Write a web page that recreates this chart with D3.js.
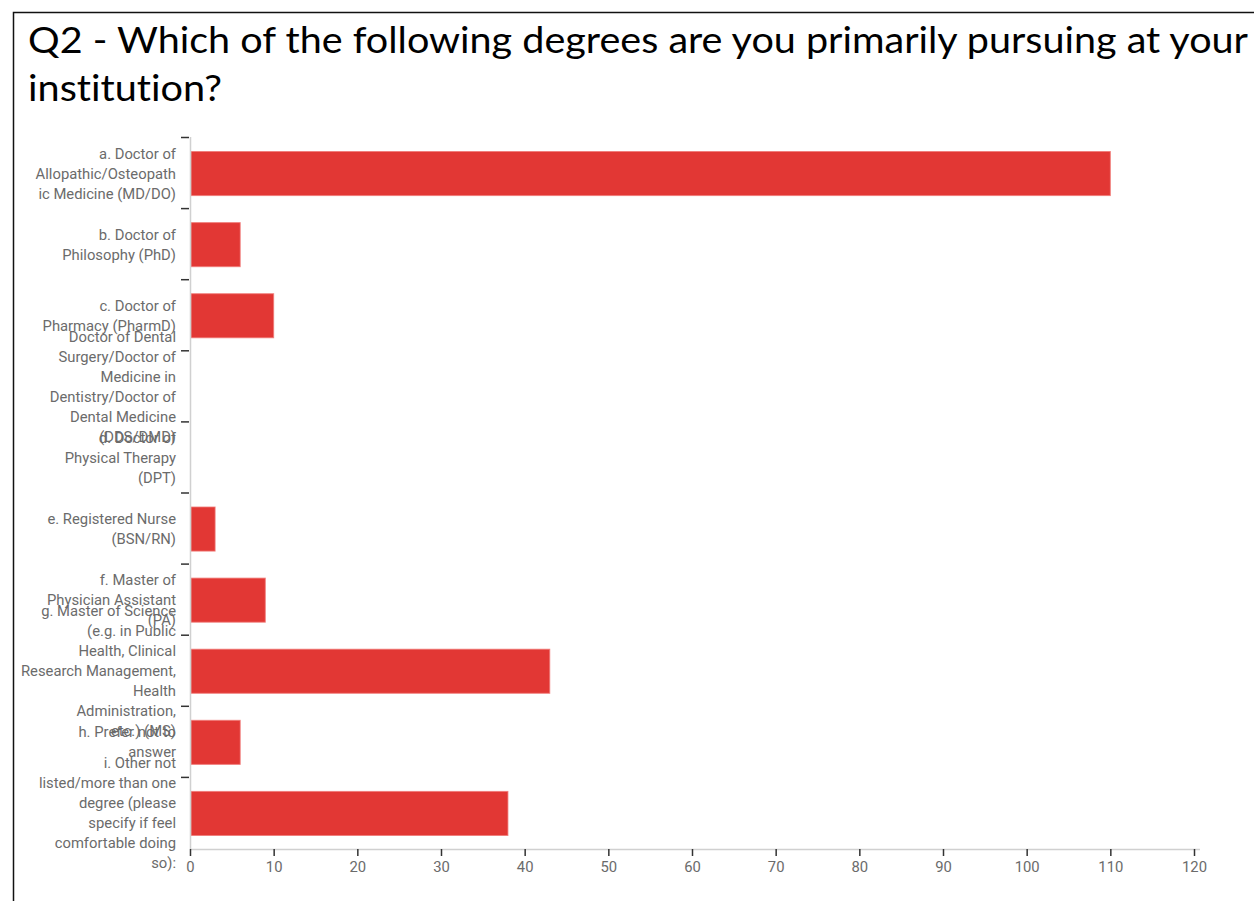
<!DOCTYPE html>
<html>
<head>
<meta charset="utf-8">
<script src="https://cdn.jsdelivr.net/npm/d3@7"></script>
<style>
  body { margin: 0; background: #fff; }
  svg { display: block; }
  text { font-variant-ligatures: none; }
</style>
</head>
<body>
<script>
const titleLines = [
  "Q2 - Which of the following degrees are you primarily pursuing at your",
  "institution?"
];

const categories = ["a", "b", "c", "d-dental", "d-pt", "e", "f", "g", "h", "i"];

const labelLines = [
  ["a. Doctor of", "Allopathic/Osteopath", "ic Medicine (MD/DO)"],
  ["b. Doctor of", "Philosophy (PhD)"],
  ["c. Doctor of", "Pharmacy (PharmD)"],
  ["Doctor of Dental", "Surgery/Doctor of", "Medicine in", "Dentistry/Doctor of", "Dental Medicine", "(DDS/DMD)"],
  ["d. Doctor of", "Physical Therapy", "(DPT)"],
  ["e. Registered Nurse", "(BSN/RN)"],
  ["f. Master of", "Physician Assistant", "(PA)"],
  ["g. Master of Science", "(e.g. in Public", "Health, Clinical", "Research Management,", "Health", "Administration,", "etc.) (MS)"],
  ["h. Prefer not to", "answer"],
  ["i. Other not", "listed/more than one", "degree (please", "specify if feel", "comfortable doing", "so):"]
];

const counts = [110, 6, 10, 0, 0, 3, 9, 43, 6, 38];

const xTicks = [0, 10, 20, 30, 40, 50, 60, 70, 80, 90, 100, 110, 120];

const width = 1254, height = 901;

const svg = d3.select("body")
  .append("svg")
  .attr("width", width)
  .attr("height", height);

// outer frame (runs off the right and bottom edges)
svg.append("path")
  .attr("d", "M13.5,905 L13.5,12.5 L1260,12.5")
  .attr("fill", "none")
  .attr("stroke", "#111")
  .attr("stroke-width", 1.5);

const title = svg.append("text")
  .attr("font-family", "Lato, 'Open Sans', sans-serif")
  .attr("font-size", 37)
  .attr("fill", "#000");

title.selectAll("tspan")
  .data(titleLines)
  .enter()
  .append("tspan")
  .attr("x", 28)
  .attr("y", (d, i) => 53 + i * 48)
  .attr("textLength", (d, i) => (i === 0 ? 1220 : 194))
  .attr("lengthAdjust", "spacingAndGlyphs")
  .text(d => d);

svg.append("defs")
  .append("clipPath")
  .attr("id", "chart-clip")
  .append("rect")
  .attr("x", 15)
  .attr("y", 14)
  .attr("width", width)
  .attr("height", height);

const chart = svg.append("g").attr("clip-path", "url(#chart-clip)");

const x = d3.scaleLinear().domain([0, 120]).range([190, 1194]);

const y = d3.scaleBand()
  .domain(categories)
  .range([138, 849])
  .paddingInner(0.38)
  .paddingOuter(0.19);

// bars
chart.selectAll("rect.bar")
  .data(counts)
  .enter()
  .append("rect")
  .attr("class", "bar")
  .attr("x", x(0) + 1)
  .attr("y", (d, i) => y(categories[i]))
  .attr("width", d => Math.max(0, x(d) - x(0) - 1))
  .attr("height", y.bandwidth())
  .attr("fill", "#e23734")
  .attr("stroke", d => (d > 0 ? "rgba(240,120,118,0.8)" : "none"))
  .attr("stroke-width", 1);

// y axis line
chart.append("line")
  .attr("x1", 190.5)
  .attr("x2", 190.5)
  .attr("y1", 137)
  .attr("y2", 849)
  .attr("stroke", "#d0d0d0")
  .attr("stroke-width", 1.5);

// y ticks at band boundaries
const step = y.step();
const boundaries = categories.map((c, i) => 137.5 + i * step);
chart.selectAll("line.ytick")
  .data(boundaries)
  .enter()
  .append("line")
  .attr("class", "ytick")
  .attr("x1", 181)
  .attr("x2", 189)
  .attr("y1", d => d)
  .attr("y2", d => d)
  .attr("stroke", "#333")
  .attr("stroke-width", 1.5);

// y labels
const lineH = 20;
const labels = chart.selectAll("text.ylabel")
  .data(labelLines)
  .enter()
  .append("text")
  .attr("class", "ylabel")
  .attr("text-anchor", "end")
  .attr("font-family", "Roboto, 'Open Sans', sans-serif")
  .attr("font-size", 14.8)
  .attr("fill", "#6b6b6b");

labels.each(function (lines, i) {
  const cy = y(categories[i]) + y.bandwidth() / 2;
  const top = cy - (lines.length - 1) * lineH / 2;
  d3.select(this).selectAll("tspan")
    .data(lines)
    .enter()
    .append("tspan")
    .attr("x", 176)
    .attr("y", (d, j) => top + j * lineH + 5)
    .text(d => d);
});

// x axis
const xAxis = chart.append("g")
  .attr("transform", "translate(0,849)")
  .call(d3.axisBottom(x).tickValues(xTicks).tickSize(7).tickPadding(5));

xAxis.select(".domain")
  .attr("d", "M190,0.5H1200")
  .attr("stroke", "#d0d0d0")
  .attr("stroke-width", 1.5);

xAxis.selectAll(".tick line")
  .attr("stroke", "#333")
  .attr("stroke-width", 1.5);

xAxis.selectAll(".tick text")
  .attr("font-family", "Roboto, 'Open Sans', sans-serif")
  .attr("font-size", 14.8)
  .attr("fill", "#6b6b6b");
</script>
</body>
</html>
